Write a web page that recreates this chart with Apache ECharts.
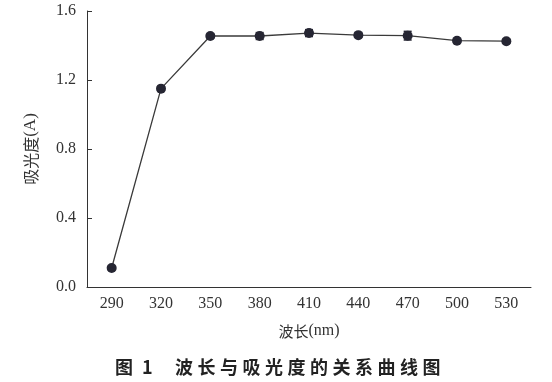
<!DOCTYPE html>
<html><head><meta charset="utf-8">
<script src="https://cdn.jsdelivr.net/npm/echarts@6/dist/echarts.min.js"></script>
<style>html,body{margin:0;padding:0;background:#fff}#c{width:552px;height:382px}</style>
</head><body><div id="c"></div>
<script>
const categories = ['290','320','350','380','410','440','470','500','530'];
const absorbance = [0.11, 1.15, 1.455, 1.455, 1.472, 1.46, 1.457, 1.428, 1.425];
const errors = [0.01, 0.012, 0.012, 0.02, 0.02, 0.012, 0.025, 0.012, 0.012];
const yTicks = [0.0, 0.4, 0.8, 1.2, 1.6];

const chart = echarts.init(document.getElementById('c'));
const serif = '"Liberation Serif","DejaVu Serif",serif';
const cjk = '"Noto Sans CJK SC",sans-serif';
const sp = '\u2005';
const caption = '图\u2002' + '1' + '\u2003\u2005' + '波长与吸光度的关系曲线图'.split('').join(sp);
chart.setOption({
  animation: false,
  grid: {left: 87, right: 21, top: 11, bottom: 95},
  title: {
    text: caption,
    left: 110, top: 353,
    textStyle: {fontFamily: '"Noto Sans CJK SC",sans-serif', fontSize: 18, fontWeight: 'bold', color: '#222'}
  },
  xAxis: {
    type: 'category', data: categories, boundaryGap: true,
    name: '{a|波长}{b|(nm)}', nameLocation: 'middle', nameGap: 36,
    nameTextStyle: {
      rich: {
        a: {fontFamily: cjk, fontSize: 15, color: '#333'},
        b: {fontFamily: serif, fontSize: 16, color: '#333'}
      }
    },
    axisLine: {lineStyle: {color: '#333', width: 1}},
    axisTick: {inside: true, length: 5, lineStyle: {color: '#333'}},
    axisLabel: {fontFamily: serif, fontSize: 16, color: '#333', margin: 9}
  },
  yAxis: {
    type: 'value', min: 0, max: 1.6, interval: 0.4,
    name: '{a|吸光度}{b|(A)}', nameLocation: 'middle', nameGap: 48, nameRotate: 90,
    nameTextStyle: {
      rich: {
        a: {fontFamily: cjk, fontSize: 16, color: '#333'},
        b: {fontFamily: serif, fontSize: 17, color: '#333'}
      }
    },
    axisLine: {show: true, lineStyle: {color: '#333', width: 1}},
    axisTick: {show: true, inside: true, length: 5, lineStyle: {color: '#333'}},
    splitLine: {show: false},
    axisLabel: {fontFamily: serif, fontSize: 16, color: '#333', margin: 11,
      formatter: v => yTicks.includes(+v.toFixed(1)) ? v.toFixed(1) : ''}
  },
  series: [
    {
      type: 'line', data: absorbance, symbol: 'circle', symbolSize: 10,
      lineStyle: {color: '#3a3a3a', width: 1.3},
      itemStyle: {color: '#262633'}, z: 3
    },
    {
      type: 'custom', z: 4,
      data: absorbance.map((v, i) => [i, v - errors[i], v + errors[i]]),
      renderItem: (params, api) => {
        const lo = api.coord([api.value(0), api.value(1)]);
        const hi = api.coord([api.value(0), api.value(2)]);
        const w = 4;
        const st = {stroke: '#262633', lineWidth: 1.5};
        return {type: 'group', children: [
          {type: 'line', shape: {x1: lo[0], y1: lo[1], x2: hi[0], y2: hi[1]}, style: st},
          {type: 'line', shape: {x1: lo[0]-w, y1: lo[1], x2: lo[0]+w, y2: lo[1]}, style: st},
          {type: 'line', shape: {x1: hi[0]-w, y1: hi[1], x2: hi[0]+w, y2: hi[1]}, style: st}
        ]};
      }
    }
  ]
});
</script></body></html>
